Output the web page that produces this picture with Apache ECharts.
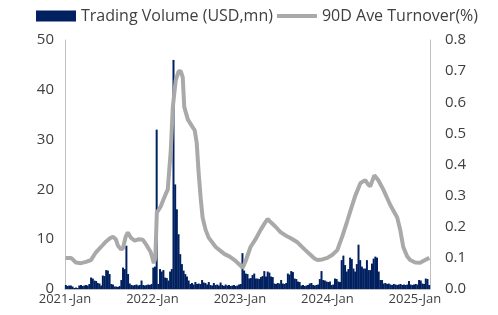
<!DOCTYPE html>
<html><head><meta charset="utf-8">
<script src="https://cdn.jsdelivr.net/npm/echarts@6/dist/echarts.min.js"></script>
<style>html,body{margin:0;padding:0;background:#fff}#c{width:498px;height:315px}</style>
</head><body><div id="c"></div>
<script>
// X tick labels (one per year, every 52 weeks from 2021-Jan)
const xTickLabels = ['2021-Jan', '2022-Jan', '2023-Jan', '2024-Jan', '2025-Jan'];

// Weekly trading volume (USD mn), week 0 = first week of Jan 2021
const weeklyVolume = [
  0.8,0.6,0.7,0.7,0.5, 0.2,0.3,0.2, 0.7,0.8,0.6,0.7,0.8,0.7,
  1.0, 2.3,2.1, 1.7,1.6, 1.2,1.1, 0.7, 2.7,2.6, 3.8,3.7, 3.0, 1.0,0.9,
  0.5,0.5,0.4,0.6, 1.8, 4.3,4.0, 8.7, 3.0, 1.1,
  0.8,0.7,0.8,0.9,0.7,0.8, 1.7, 0.8,0.7,0.8,0.9,0.8, 1.0,
  4.3,4.5, 32, 1.0, 4.0,3.5,3.8, 2.3,2.2, 1.7, 3.5,4.0,
  46, 21, 16, 11, 7, 5, 3.7, 3.0, 2.5, 1.7,
  1.0,1.2,0.9,1.4,1.0,1.1, 1.0,1.8, 1.3,1.2,
  0.9,1.4,0.8,0.7,1.2,0.8,0.9,0.7,1.3,0.8,0.6,0.9,0.7,0.8,0.6,0.7,0.8,0.6,0.7,0.9,
  1.0, 7.2, 3.7, 3.1,3.0, 2.1,2.2, 2.8, 3.1,2.1, 2.1,2.0, 2.4,2.6, 3.6, 2.5,
  3.5,3.3, 2.5,2.4, 1.1,1.0,1.2, 1.1,1.8, 1.1,1.0,1.2, 3.1,2.9, 3.6,3.4,
  2.1,2.0, 1.5,1.4, 0.7,0.8,0.6,0.7,0.8, 1.1,1.2, 0.8,0.7,0.8,0.9,
  2.0,3.6, 1.8,1.7, 1.5,1.4,1.5, 0.8,0.9, 2.1,2.0, 1.5,1.4,
  5.8, 6.7, 4.8, 3.5, 4.0, 6.3, 6.0, 4.1, 3.5, 5.0, 8.9, 5.8, 4.5, 4.1, 4.1,
  5.8, 3.8, 3.8, 5.1, 6.1, 6.5, 6.3, 3.5, 1.8, 1.8,
  1.1,1.2,1.0,1.1, 0.9,0.8,1.0,0.9,0.8,0.9,1.0,0.8,0.9,0.8,0.9,
  1.6, 0.9,0.8,0.9,1.0,0.9, 1.8,1.7, 1.1,1.0, 2.1,2.0, 0.8
];

// 90-day average turnover (%), sampled at week positions
const turnoverWeek = [
  0.3,3.6,6.5,9.5,12.5,15.4,18.4,21.4,24.3,26.7,28.5,30.2,31.4,33.2,34.4,36.2,37.4,39.1,
  41.5,43.9,46.3,48.6,51.0,52.8,53.7,54.6,56.9,58.7,61.1,62.9,64.1,65.8,67.6,68.8,70.0,
  70.9,73.0,75.3,77.1,78.3,79.5,80.7,81.8,83.6,85.4,89.6,91.9,94.9,97.9,100.8,103.8,
  105.6,107.4,110.3,113.3,116.3,118.6,120.4,122.2,125.2,128.1,131.1,134.0,138.2,142.9,
  145.9,148.3,150.1,153.0,156.0,159.0,161.9,164.9,167.9,170.2,172.6,175.6,178.5,180.3,
  181.5,183.9,186.2,189.2,193.4,197.5,199.3,201.1,203.4,205.2,208.2,211.1,214.1,216.6
];
const turnoverValue = [
  0.10,0.10,0.085,0.083,0.087,0.093,0.118,0.135,0.152,0.163,0.168,0.16,0.14,0.128,0.13,0.17,0.182,0.165,
  0.155,0.16,0.158,0.14,0.118,0.083,0.10,0.245,0.265,0.29,0.32,0.447,0.585,0.67,0.70,0.70,0.68,
  0.585,0.545,0.525,0.51,0.47,0.37,0.29,0.23,0.19,0.165,0.135,0.125,0.112,0.104,0.093,0.078,
  0.068,0.09,0.135,0.16,0.19,0.21,0.225,0.215,0.20,0.183,0.172,0.164,0.15,0.125,
  0.11,0.098,0.093,0.095,0.10,0.11,0.125,0.17,0.22,0.26,0.30,0.34,0.35,0.335,
  0.33,0.365,0.35,0.32,0.27,0.23,0.19,0.135,0.105,0.093,0.085,0.084,0.093,0.10
];

const FONT = 'Open Sans';
const LINE_COLOR = '#A9A9A9';
const chart = echarts.init(document.getElementById('c'), null, {renderer: 'canvas'});
chart.setOption({
  animation: false,
  backgroundColor: '#fff',
  textStyle: {fontFamily: FONT},
  legend: {
    left: 36, top: 8, width: 470, padding: 0, itemWidth: 40, itemHeight: 11, itemGap: 4,
    textStyle: {fontSize: 16, color: '#404040', fontFamily: FONT},
    data: [
      {name: 'Trading Volume (USD,mn)', icon: 'rect'},
      {name: '90D Ave Turnover(%)', icon: 'path://M0,0H40V4H0Z', itemStyle: {color: LINE_COLOR}}
    ]
  },
  grid: {left: 65, right: 68, top: 40, bottom: 26, containLabel: false},
  xAxis: {
    type: 'value', min: 0, max: 217, interval: 52,
    axisLine: {show: true, lineStyle: {color: '#BFBFBF', width: 1}},
    axisTick: {show: false}, splitLine: {show: false},
    axisLabel: {
      color: '#404040', fontSize: 13, margin: 4, showMaxLabel: false,
      formatter: v => (v % 52 === 0 && xTickLabels[v / 52]) ? xTickLabels[v / 52] : ''
    }
  },
  yAxis: [
    {type: 'value', min: 0, max: 50, interval: 10, position: 'left',
     axisLine: {show: true, lineStyle: {color: '#BFBFBF'}}, axisTick: {show: false},
     splitLine: {show: false}, axisLabel: {color: '#404040', fontSize: 15, margin: 11}},
    {type: 'value', min: 0, max: 0.8, interval: 0.1, position: 'right',
     axisLine: {show: true, lineStyle: {color: '#BFBFBF'}}, axisTick: {show: false},
     splitLine: {show: false},
     axisLabel: {color: '#404040', fontSize: 15, margin: 15, formatter: v => v.toFixed(1)}}
  ],
  series: [
    {name: 'Trading Volume (USD,mn)', type: 'bar', yAxisIndex: 0, barWidth: 2,
     itemStyle: {color: '#002060'},
     data: weeklyVolume.map((v, i) => [i + 0.5, v])},
    {name: '90D Ave Turnover(%)', type: 'line', yAxisIndex: 1, symbol: 'none',
     lineStyle: {color: LINE_COLOR, width: 4}, itemStyle: {color: LINE_COLOR},
     data: turnoverWeek.map((w, i) => [w, turnoverValue[i]])}
  ]
});
</script></body></html>
